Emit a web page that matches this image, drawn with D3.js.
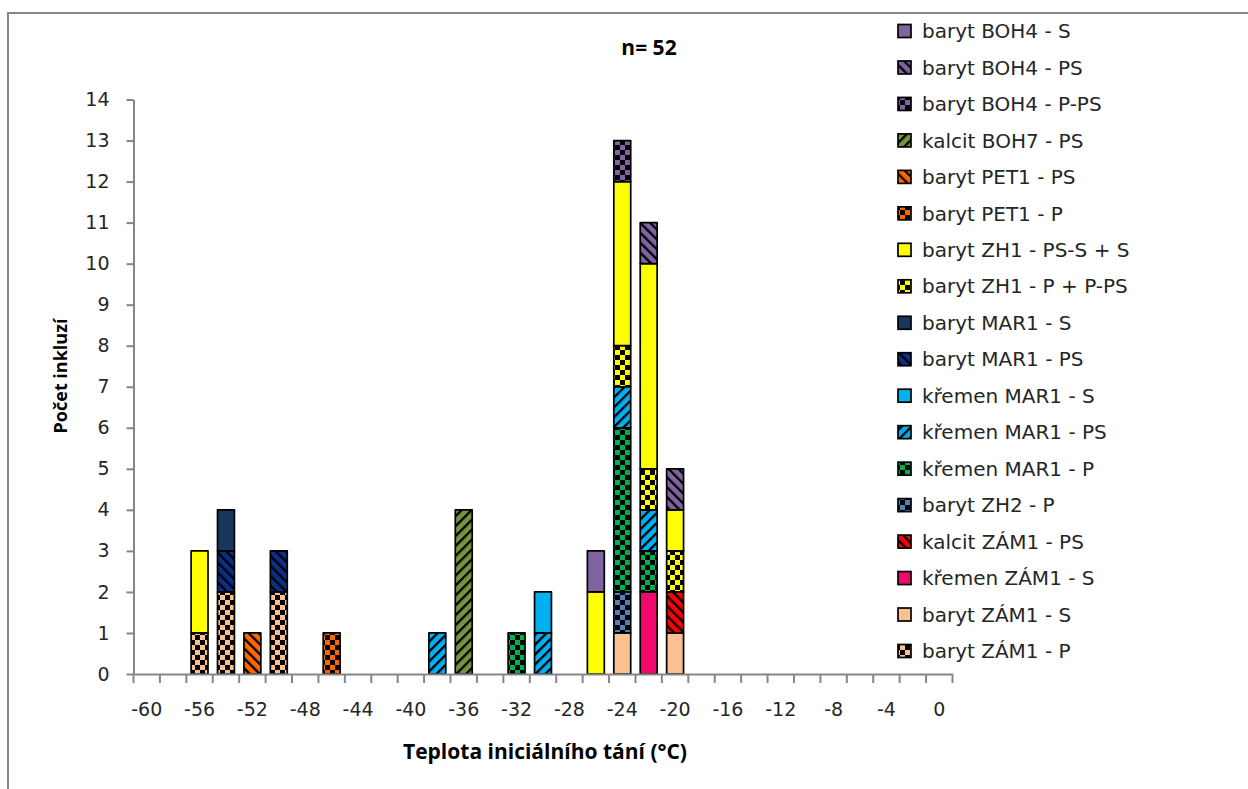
<!DOCTYPE html>
<html>
<head>
<meta charset="utf-8">
<script src="https://cdn.jsdelivr.net/npm/d3@7"></script>
<style>
  html, body { margin: 0; padding: 0; background: #fff; }
  svg { display: block; }
  text { font-family: "DejaVu Sans", "Open Sans", sans-serif; }
</style>
</head>
<body>
<div id="chart"></div>
<script>
// ---------------- DATA ----------------
const categories = [-60,-58,-56,-54,-52,-50,-48,-46,-44,-42,-40,-38,-36,-34,-32,-30,-28,-26,-24,-22,-20,-18,-16,-14,-12,-10,-8,-6,-4,-2,0];
const xTickLabels = [-60,-56,-52,-48,-44,-40,-36,-32,-28,-24,-20,-16,-12,-8,-4,0];
const yTickValues = [0,1,2,3,4,5,6,7,8,9,10,11,12,13,14];

// series in stacking order (bottom -> top)
const seriesNames = [
  "baryt ZÁM1 - P", "baryt ZÁM1 - S", "křemen ZÁM1 - S", "kalcit ZÁM1 - PS",
  "baryt ZH2 - P", "křemen MAR1 - P", "křemen MAR1 - PS", "křemen MAR1 - S",
  "baryt MAR1 - PS", "baryt MAR1 - S", "baryt ZH1 - P + P-PS", "baryt ZH1 - PS-S + S",
  "baryt PET1 - P", "baryt PET1 - PS", "kalcit BOH7 - PS", "baryt BOH4 - P-PS",
  "baryt BOH4 - PS", "baryt BOH4 - S"
];
//                       -60 ........................ -42 | -40 ......................... -22 | -20 .......................... 0
const barytZAM1_P   = [0,0,1,2,0,2,0,0,0,0, 0,0,0,0,0,0,0,0,0,0, 0,0,0,0,0,0,0,0,0,0,0];
const barytZAM1_S   = [0,0,0,0,0,0,0,0,0,0, 0,0,0,0,0,0,0,0,1,0, 1,0,0,0,0,0,0,0,0,0,0];
const kremenZAM1_S  = [0,0,0,0,0,0,0,0,0,0, 0,0,0,0,0,0,0,0,0,2, 0,0,0,0,0,0,0,0,0,0,0];
const kalcitZAM1_PS = [0,0,0,0,0,0,0,0,0,0, 0,0,0,0,0,0,0,0,0,0, 1,0,0,0,0,0,0,0,0,0,0];
const barytZH2_P    = [0,0,0,0,0,0,0,0,0,0, 0,0,0,0,0,0,0,0,1,0, 0,0,0,0,0,0,0,0,0,0,0];
const kremenMAR1_P  = [0,0,0,0,0,0,0,0,0,0, 0,0,0,0,1,0,0,0,4,1, 0,0,0,0,0,0,0,0,0,0,0];
const kremenMAR1_PS = [0,0,0,0,0,0,0,0,0,0, 0,1,0,0,0,1,0,0,1,1, 0,0,0,0,0,0,0,0,0,0,0];
const kremenMAR1_S  = [0,0,0,0,0,0,0,0,0,0, 0,0,0,0,0,1,0,0,0,0, 0,0,0,0,0,0,0,0,0,0,0];
const barytMAR1_PS  = [0,0,0,1,0,1,0,0,0,0, 0,0,0,0,0,0,0,0,0,0, 0,0,0,0,0,0,0,0,0,0,0];
const barytMAR1_S   = [0,0,0,1,0,0,0,0,0,0, 0,0,0,0,0,0,0,0,0,0, 0,0,0,0,0,0,0,0,0,0,0];
const barytZH1_P    = [0,0,0,0,0,0,0,0,0,0, 0,0,0,0,0,0,0,0,1,1, 1,0,0,0,0,0,0,0,0,0,0];
const barytZH1_S    = [0,0,2,0,0,0,0,0,0,0, 0,0,0,0,0,0,0,2,4,5, 1,0,0,0,0,0,0,0,0,0,0];
const barytPET1_P   = [0,0,0,0,0,0,0,1,0,0, 0,0,0,0,0,0,0,0,0,0, 0,0,0,0,0,0,0,0,0,0,0];
const barytPET1_PS  = [0,0,0,0,1,0,0,0,0,0, 0,0,0,0,0,0,0,0,0,0, 0,0,0,0,0,0,0,0,0,0,0];
const kalcitBOH7_PS = [0,0,0,0,0,0,0,0,0,0, 0,0,4,0,0,0,0,0,0,0, 0,0,0,0,0,0,0,0,0,0,0];
const barytBOH4_PPS = [0,0,0,0,0,0,0,0,0,0, 0,0,0,0,0,0,0,0,1,0, 0,0,0,0,0,0,0,0,0,0,0];
const barytBOH4_PS  = [0,0,0,0,0,0,0,0,0,0, 0,0,0,0,0,0,0,0,0,1, 1,0,0,0,0,0,0,0,0,0,0];
const barytBOH4_S   = [0,0,0,0,0,0,0,0,0,0, 0,0,0,0,0,0,0,1,0,0, 0,0,0,0,0,0,0,0,0,0,0];

const seriesValues = [
  barytZAM1_P, barytZAM1_S, kremenZAM1_S, kalcitZAM1_PS, barytZH2_P, kremenMAR1_P,
  kremenMAR1_PS, kremenMAR1_S, barytMAR1_PS, barytMAR1_S, barytZH1_P, barytZH1_S,
  barytPET1_P, barytPET1_PS, kalcitBOH7_PS, barytBOH4_PPS, barytBOH4_PS, barytBOH4_S
];

const titleText = "n= 52";
const xTitle = "Teplota iniciálního tání (°C)";
const yTitle = "Počet inkluzí";

// ---------------- STYLES ----------------
const seriesStyle = [
  {c:"#FAC090", p:"check"}, {c:"#FAC090", p:"solid"}, {c:"#F2086C", p:"solid"}, {c:"#FF0000", p:"down"},
  {c:"#4F81BD", p:"check"}, {c:"#00B050", p:"check"}, {c:"#00B0F0", p:"up"},   {c:"#00B0F0", p:"solid"},
  {c:"#0B2E86", p:"down"},  {c:"#17375E", p:"solid"}, {c:"#FFFF00", p:"check"}, {c:"#FFFF00", p:"solid"},
  {c:"#FF6600", p:"check"}, {c:"#FF6600", p:"down"},  {c:"#77933C", p:"up"},   {c:"#8064A2", p:"check"},
  {c:"#8064A2", p:"down"},  {c:"#8064A2", p:"solid"}
];

// ---------------- SETUP ----------------
const W = 1248, H = 789;
const svg = d3.select("#chart").append("svg").attr("width", W).attr("height", H);
const defs = svg.append("defs");

seriesStyle.forEach((s, i) => {
  if (s.p === "solid") return;
  if (s.p === "check") {
    const p = defs.append("pattern").attr("id", "pat" + i)
      .attr("patternUnits", "userSpaceOnUse").attr("width", 10).attr("height", 10);
    p.append("rect").attr("width", 10).attr("height", 10).attr("fill", s.c);
    p.append("rect").attr("x", 0).attr("y", 0).attr("width", 5).attr("height", 5).attr("fill", "#000");
    p.append("rect").attr("x", 5).attr("y", 5).attr("width", 5).attr("height", 5).attr("fill", "#000");
  } else {
    const p = defs.append("pattern").attr("id", "pat" + i)
      .attr("patternUnits", "userSpaceOnUse").attr("width", 7).attr("height", 7)
      .attr("patternTransform", s.p === "up" ? "rotate(45)" : "rotate(-45)");
    p.append("rect").attr("width", 7).attr("height", 7).attr("fill", s.c);
    p.append("rect").attr("x", 0).attr("y", 0).attr("width", 2.3).attr("height", 7).attr("fill", "#000");
  }
});
const fillOf = i => seriesStyle[i].p === "solid" ? seriesStyle[i].c : `url(#pat${i})`;

// background + chart border
svg.append("rect").attr("width", W).attr("height", H).attr("fill", "#fff");
svg.append("rect").attr("x", 8).attr("y", 13).attr("width", 1300).attr("height", 900)
  .attr("fill", "#fff").attr("stroke", "#868686").attr("stroke-width", 2);

// scales
const x = d3.scaleBand().domain(categories).range([133.5, 952.5])
  .paddingInner(0.36).paddingOuter(0.18);
const y = d3.scaleLinear().domain([0, 14]).range([674, 99.5]);

// stack
const table = categories.map((c, ci) => {
  const row = { cat: c };
  seriesNames.forEach((n, si) => row[n] = seriesValues[si][ci]);
  return row;
});
const stacked = d3.stack().keys(seriesNames)(table);

// bars
const gBars = svg.append("g");
stacked.forEach((layer, si) => {
  gBars.append("g").selectAll("rect")
    .data(layer.filter(d => d[1] - d[0] > 0))
    .join("rect")
    .attr("x", d => x(d.data.cat))
    .attr("width", x.bandwidth())
    .attr("y", d => y(d[1]))
    .attr("height", d => y(d[0]) - y(d[1]))
    .attr("fill", fillOf(si))
    .attr("stroke", "#000")
    .attr("stroke-width", 1.7)
    .attr("stroke-linejoin", "round");
});

// axes
const axisColor = "#868686";
const textColor = "#262626";

const xAxis = svg.append("g").attr("transform", "translate(0,674)")
  .call(d3.axisBottom(x).tickSizeInner(0).tickSizeOuter(0).tickPadding(29)
    .tickFormat(d => xTickLabels.includes(d) ? String(d) : ""));
xAxis.select(".domain").attr("stroke", axisColor).attr("stroke-width", 2);
xAxis.selectAll("text").attr("font-size", 19).attr("fill", textColor)
  .style("font-family", "'DejaVu Sans', sans-serif");
// boundary ticks between categories
const step = x.step();
const bounds = categories.map(c => x(c) + x.bandwidth() / 2 - step / 2)
  .concat([x(categories[categories.length - 1]) + x.bandwidth() / 2 + step / 2]);
xAxis.append("g").selectAll("line").data(bounds).join("line")
  .attr("x1", d => d).attr("x2", d => d).attr("y1", 0).attr("y2", 9)
  .attr("stroke", axisColor).attr("stroke-width", 2);

const yAxis = svg.append("g").attr("transform", "translate(133.5,0)")
  .call(d3.axisLeft(y).tickValues(yTickValues).tickSizeInner(7).tickSizeOuter(0).tickPadding(17)
    .tickFormat(d3.format("d")));
yAxis.select(".domain").attr("stroke", axisColor).attr("stroke-width", 2);
yAxis.selectAll(".tick line").attr("stroke", axisColor).attr("stroke-width", 2);
yAxis.selectAll("text").attr("font-size", 19).attr("fill", textColor)
  .style("font-family", "'DejaVu Sans', sans-serif");

// titles
svg.append("text").attr("x", 649).attr("y", 55).attr("text-anchor", "middle")
  .style("font-family", "'Open Sans', sans-serif")
  .attr("font-size", 21).attr("font-weight", "bold").attr("fill", "#000").text(titleText);
svg.append("text").attr("x", 545).attr("y", 759).attr("text-anchor", "middle")
  .style("font-family", "'Open Sans', sans-serif")
  .attr("font-size", 21).attr("font-weight", "bold").attr("fill", "#000").text(xTitle);
svg.append("text").attr("transform", "translate(67,376) rotate(-90)").attr("text-anchor", "middle")
  .style("font-family", "'Open Sans', sans-serif")
  .attr("font-size", 18).attr("font-weight", "bold").attr("fill", "#000").text(yTitle);

// legend (reverse order, like Excel stacked bars)
const legendOrder = d3.range(seriesNames.length).reverse();
const lg = svg.append("g");
legendOrder.forEach((si, k) => {
  const cy = 31 + k * 36.47;
  lg.append("rect").attr("x", 898).attr("y", cy - 6.5).attr("width", 13).attr("height", 13)
    .attr("fill", fillOf(si)).attr("stroke", "#000").attr("stroke-width", 1.7);
  lg.append("text").attr("x", 922).attr("y", cy).attr("dy", "0.36em")
    .style("font-family", "'DejaVu Sans', sans-serif")
    .attr("font-size", 20).attr("fill", textColor).text(seriesNames[si]);
});
</script>
</body>
</html>
